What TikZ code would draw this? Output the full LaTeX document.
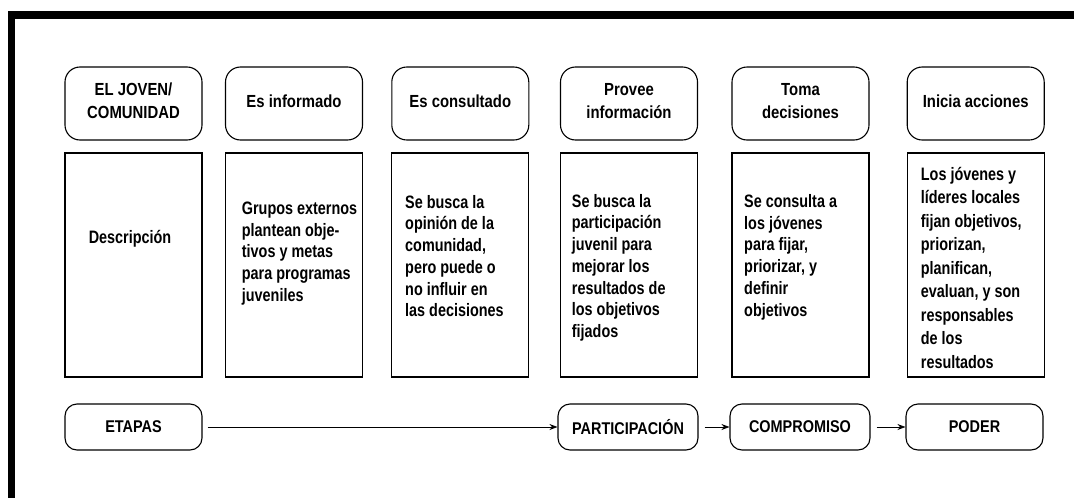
\documentclass[tikz,border=0pt]{standalone}
\usepackage{fontspec}
\setmainfont{Liberation Sans}[FakeStretch=0.85]
\newfontfamily\condfont{Liberation Sans}[FakeStretch=0.8]
\usetikzlibrary{arrows.meta}
\begin{document}
\begin{tikzpicture}[x=1pt,y=-1pt,
  head/.style={draw, line width=1.1pt, rounded corners=15pt, minimum width=137pt, minimum height=73pt, align=center, inner sep=0pt, text depth=5pt, font=\fontsize{17.5}{23}\selectfont\bfseries},
  desc/.style={draw, line width=1.1pt, minimum width=137pt, minimum height=224pt, inner sep=0pt},
  txt/.style={anchor=north west, align=left, inner sep=0pt, font=\condfont\fontsize{18}{21.7}\selectfont\bfseries},
  stage/.style={draw, line width=1.1pt, rounded corners=12pt, minimum width=137pt, minimum height=46pt, inner sep=0pt, font=\fontsize{17}{20}\selectfont\bfseries},
  conn/.style={line width=0.8pt, -{Stealth[length=8pt,width=6pt]}}]
\useasboundingbox (0,0) rectangle (1074,498);
\fill (8,10.7) rectangle (1074,19);
\fill (8,10.7) rectangle (15.3,498);
% header row
\node[head] (h1) at (133.5,103.5) {EL JOVEN/\\COMUNIDAD};
\node[head] (h2) at (294,103.5) {Es informado};
\node[head] (h3) at (460.3,103.5) {Es consultado};
\node[head] (h4) at (629,103.5) {Provee\\información};
\node[head] (h5) at (800.5,103.5) {Toma\\decisiones};
\node[head] (h6) at (975.7,103.5) {Inicia acciones};
% description boxes
\node[desc] (d1) at (133.5,265) {};
\node[desc] (d2) at (294,265) {};
\node[desc] (d3) at (460.3,265) {};
\node[desc] (d4) at (629,265) {};
\node[desc] (d5) at (800.5,265) {};
\node[desc] (d6) at (975.7,265) {};
\node[txt, anchor=north] (t1) at (130,230) {Descripción};
\node[txt] (t2) at (241.7,201.7) {Grupos externos\\plantean obje-\\tivos y metas\\para programas\\juveniles};
\node[txt] (t3) at (405,195) {Se busca la\\opinión de la\\comunidad,\\pero puede o\\no influir en\\las decisiones};
\node[txt] (t4) at (571.7,194) {Se busca la\\participación\\juvenil para\\mejorar los\\resultados de\\los objetivos\\fijados};
\node[txt] (t5) at (744,194.3) {Se consulta a\\los jóvenes\\para fijar,\\priorizar, y\\definir\\objetivos};
\node[txt, font=\condfont\fontsize{18}{23.5}\selectfont\bfseries] (t6) at (920.7,166.7) {Los jóvenes y\\líderes locales\\fijan objetivos,\\priorizan,\\planifican,\\evaluan, y son\\responsables\\de los\\resultados};
% stages
\node[stage] (s1) at (133.5,427) {ETAPAS};
\node[stage, minimum width=140pt] (s2) at (628,427) {PARTICIPACIÓN};
\node[stage, minimum width=140pt] (s3) at (800,427) {COMPROMISO};
\node[stage] (s4) at (974.5,427) {PODER};
\draw[conn, shorten <=5pt] (s1) -- (s2);
\draw[conn, shorten <=6pt] (s2) -- (s3);
\draw[conn, shorten <=6pt] (s3) -- (s4);
\end{tikzpicture}
\end{document}
